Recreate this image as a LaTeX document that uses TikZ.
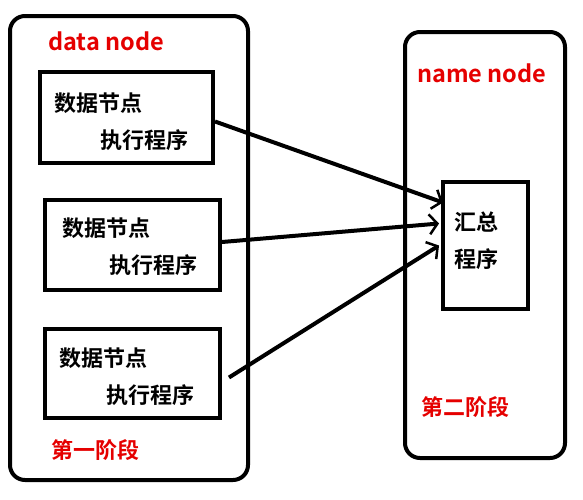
\documentclass[tikz,border=0pt]{standalone}
\usepackage{fontspec}
\setmainfont{Noto Sans CJK SC}[BoldFont={* Bold}]
\usetikzlibrary{arrows.meta}
\tikzset{
  frame/.style={draw, line width=4pt, rounded corners=15pt},
  boxx/.style={draw, line width=4pt},
  txt/.style={font=\bfseries\fontsize{22}{26}\selectfont, inner sep=0pt, anchor=west},
  lbl/.style={font=\bfseries\fontsize{22}{26}\selectfont, text=red!90!black, inner sep=0pt, anchor=west},
  latinlbl/.style={lbl, font=\bfseries\fontsize{23.5}{27}\selectfont},
  conn/.style={line width=4pt, -{Straight Barb[length=8pt,width=20pt,line width=2.5pt]}}
}
\begin{document}
\begin{tikzpicture}[x=1pt,y=-1pt]
\useasboundingbox (0,0) rectangle (583,499);
% containers
\draw[frame] (10,16) rectangle (248,480);
\draw[frame] (405,32) rectangle (565,458);
% boxes
\node[boxx, minimum width=173pt, minimum height=91pt] (b1) at (126.5,117.5) {};
\node[boxx, minimum width=175pt, minimum height=90pt] (b2) at (132.5,245) {};
\node[boxx, minimum width=175pt, minimum height=89pt] (b3) at (132.5,373.5) {};
\node[boxx, minimum width=85pt, minimum height=127pt] (s) at (485.5,245.5) {};
% texts
\node[txt] (t1a) at (54,103) {数据节点};
\node[txt] (t1b) at (100,140) {执行程序};
\node[txt] (t2a) at (62,228) {数据节点};
\node[txt] (t2b) at (109,265) {执行程序};
\node[txt] (t3a) at (59,358) {数据节点};
\node[txt] (t3b) at (106,395) {执行程序};
\node[txt] (s1) at (454,222) {汇总};
\node[txt] (s2) at (454,259) {程序};
% labels
\node[latinlbl] (dn) at (48,41) {data node};
\node[latinlbl] (nn) at (417,73) {name node};
\node[lbl] (p1) at (51,450) {第一阶段};
\node[lbl] (p2) at (421,407) {第二阶段};
% connectors
\draw[conn] ([yshift=-4pt]b1.east) -- ([xshift=2pt,yshift=43pt]s.west);
\draw[conn] ([yshift=3pt]b2.east) -- ([xshift=-2pt,yshift=22pt]s.west);
\draw[conn] ([xshift=7pt,yshift=-4pt]b3.east) -- ([xshift=-2pt]s.west);
\end{tikzpicture}
\end{document}
